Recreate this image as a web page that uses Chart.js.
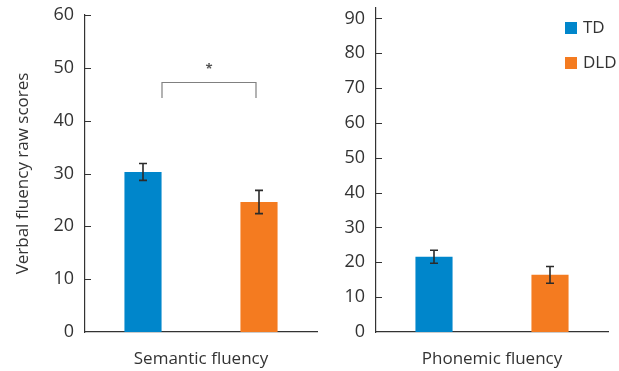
<!DOCTYPE html>
<html>
<head>
<meta charset="utf-8">
<script src="https://cdn.jsdelivr.net/npm/chart.js@4.4.1/dist/chart.umd.min.js"></script>
<style>
  html, body { margin: 0; padding: 0; background: #fff; }
  #wrap { position: relative; width: 619px; height: 371px; }
  .box { position: absolute; top: 0; height: 371px; }
  #left { left: 0; width: 318px; }
  #right { left: 318px; width: 301px; }
</style>
</head>
<body>
<div id="wrap">
  <div class="box" id="left"><canvas id="semChart"></canvas></div>
  <div class="box" id="right"><canvas id="phonChart"></canvas></div>
</div>
<script>
// values
const groups = ["TD", "DLD"];
const tasks = ["Semantic fluency", "Phonemic fluency"];
const groupColors = ["#0086cb", "#f47b20"];
const tdMeans = [30.3, 21.6];
const dldMeans = [24.6, 16.4];
const tdErr = [1.6, 1.85];
const dldErr = [2.2, 2.4];
const axisMax = [60, 93];
const tickMax = [60, 90];
const tickStep = 10;
// significance bracket on semantic fluency: [bar level, leg end, star level]
const sigBracket = [47.4, 44.3, 50.3];

const FONT = "'Open Sans', sans-serif";
const TEXT = "#333333";
const AXIS = "#333333";

const errorBars = {
  id: "errorBars",
  afterDatasetsDraw(chart) {
    const ctx = chart.ctx;
    const y = chart.scales.y;
    ctx.save();
    ctx.strokeStyle = "#2b2b2b";
    ctx.lineWidth = 1.6;
    chart.data.datasets.forEach((ds, i) => {
      const bar = chart.getDatasetMeta(i).data[0];
      const v = ds.data[0];
      const e = ds.err[0];
      const top = y.getPixelForValue(v + e);
      const bot = y.getPixelForValue(v - e);
      const cap = 4;
      ctx.beginPath();
      ctx.moveTo(bar.x, top); ctx.lineTo(bar.x, bot);
      ctx.moveTo(bar.x - cap, top); ctx.lineTo(bar.x + cap, top);
      ctx.moveTo(bar.x - cap, bot); ctx.lineTo(bar.x + cap, bot);
      ctx.stroke();
    });
    ctx.restore();
  }
};

// y ticks drawn on the inner side of the axis
const innerTicks = {
  id: "innerTicks",
  afterDraw(chart) {
    const ctx = chart.ctx;
    const y = chart.scales.y;
    const x0 = chart.chartArea.left;
    ctx.save();
    ctx.strokeStyle = AXIS;
    ctx.lineWidth = 1;
    y.ticks.forEach((t) => {
      if (t.value === 0) return;
      const py = Math.round(y.getPixelForValue(t.value)) + 0.5;
      ctx.beginPath();
      ctx.moveTo(x0, py);
      ctx.lineTo(x0 + 6, py);
      ctx.stroke();
    });
    ctx.restore();
  }
};

const bracket = {
  id: "bracket",
  afterDatasetsDraw(chart, args, opts) {
    if (!opts.show) return;
    const ctx = chart.ctx;
    const y = chart.scales.y;
    const xa = chart.getDatasetMeta(0).data[0].x + 19;
    const xb = chart.getDatasetMeta(1).data[0].x - 3;
    const yBar = Math.round(y.getPixelForValue(sigBracket[0])) + 0.5;
    const yLeg = y.getPixelForValue(sigBracket[1]);
    ctx.save();
    ctx.strokeStyle = "#808080";
    ctx.lineWidth = 1.2;
    ctx.beginPath();
    ctx.moveTo(xa, yLeg); ctx.lineTo(xa, yBar); ctx.lineTo(xb, yBar); ctx.lineTo(xb, yLeg);
    ctx.stroke();
    ctx.fillStyle = "#555";
    ctx.font = "bold 13px " + FONT;
    ctx.textAlign = "center";
    ctx.textBaseline = "middle";
    ctx.fillText("*", (xa + xb) / 2, y.getPixelForValue(sigBracket[2]) + 3);
    ctx.restore();
  }
};

const boxLegend = {
  id: "boxLegend",
  afterDraw(chart, args, opts) {
    if (!opts.show) return;
    const ctx = chart.ctx;
    const left = chart.chartArea.right - 43;
    ctx.save();
    ctx.font = "17px " + FONT;
    ctx.textBaseline = "middle";
    chart.data.datasets.forEach((ds, i) => {
      const top = 22 + i * 35;
      ctx.fillStyle = ds.backgroundColor;
      ctx.fillRect(left, top, 12, 12);
      ctx.fillStyle = TEXT;
      ctx.fillText(ds.label, left + 18, top + 6.5);
    });
    ctx.restore();
  }
};

function makeChart(id, idx, opts) {
  return new Chart(document.getElementById(id), {
    type: "bar",
    data: {
      labels: [tasks[idx]],
      datasets: [
        { label: groups[0], data: [tdMeans[idx]], err: [tdErr[idx]], backgroundColor: groupColors[0] },
        { label: groups[1], data: [dldMeans[idx]], err: [dldErr[idx]], backgroundColor: groupColors[1] }
      ]
    },
    options: {
      responsive: true,
      maintainAspectRatio: false,
      animation: false,
      events: [],
      layout: { padding: { top: opts.padTop, right: opts.padRight, left: 0, bottom: 0 } },
      datasets: { bar: { categoryPercentage: 1, barPercentage: 0.32 } },
      plugins: {
        legend: { display: false },
        tooltip: { enabled: false },
        bracket: { show: idx === 0 },
        boxLegend: { show: idx === 1 }
      },
      scales: {
        x: {
          grid: { display: false, drawTicks: false },
          border: { display: true, color: AXIS, width: 1.2 },
          ticks: { color: TEXT, font: { family: FONT, size: 17 }, padding: 17 },
          afterFit: (s) => { s.height = 39; }
        },
        y: {
          min: 0,
          max: axisMax[idx],
          afterBuildTicks: (s) => {
            const list = [];
            for (let v = 0; v <= tickMax[idx]; v += tickStep) list.push({ value: v });
            s.ticks = list;
          },
          ticks: { color: TEXT, font: { family: FONT, size: 18 }, padding: 11 },
          grid: { display: false, drawTicks: false },
          border: { display: true, color: AXIS, width: 1.2 },
          title: {
            display: opts.title !== undefined,
            text: opts.title,
            color: TEXT,
            font: { family: FONT, size: 17 },
            padding: { top: 13, bottom: 0 }
          },
          afterFit: (s) => {
            s.width = opts.axisWidth;
            s.paddingTop = 0;
            s.paddingBottom = 0;
          }
        }
      }
    },
    plugins: [errorBars, innerTicks, bracket, boxLegend]
  });
}

makeChart("semChart", 0, { padTop: 15, padRight: 1, axisWidth: 85, title: "Verbal fluency raw scores" });
makeChart("phonChart", 1, { padTop: 8, padRight: 11, axisWidth: 58 });
</script>
</body>
</html>
